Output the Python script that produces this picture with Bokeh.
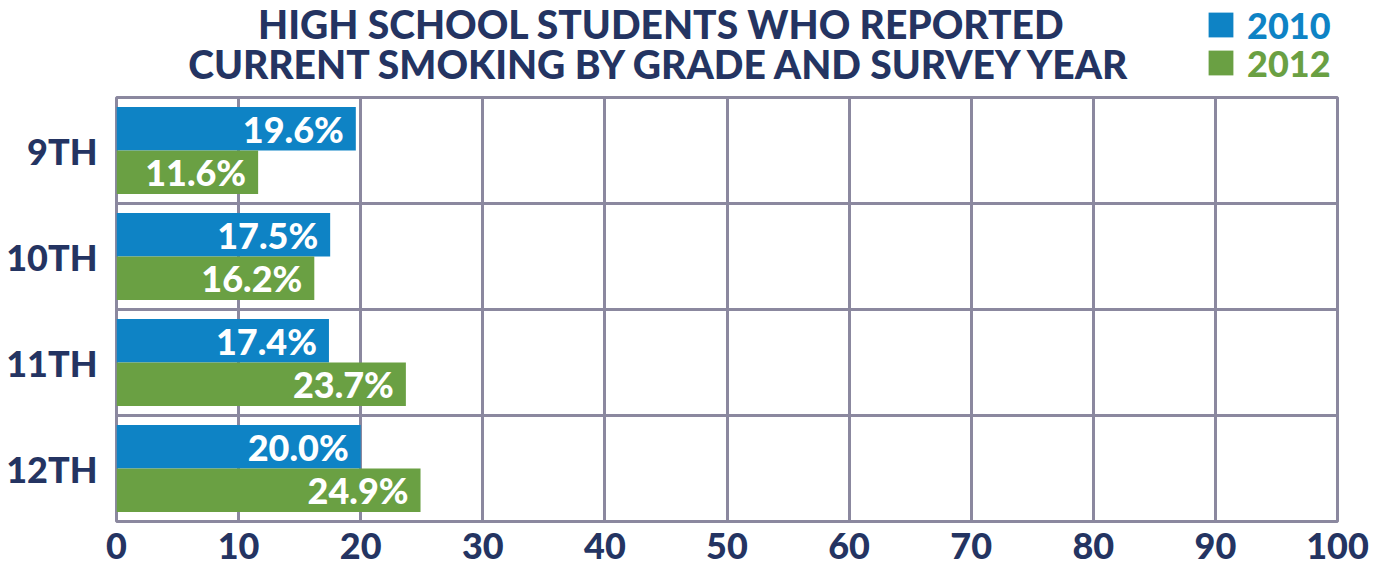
from bokeh.plotting import figure
from bokeh.layouts import column
from bokeh.models import (ColumnDataSource, FixedTicker, Label, Legend, LegendItem, Range1d)
from bokeh.transform import dodge
from bokeh.core.properties import value
from bokeh.embed import file_html
from bokeh.resources import INLINE

# ---- data ----
grades = ["9TH", "10TH", "11TH", "12TH"]
smoking_2010 = [19.6, 17.5, 17.4, 20.0]
smoking_2012 = [11.6, 16.2, 23.7, 24.9]
series_names = ["2010", "2012"]
x_ticks = [0, 10, 20, 30, 40, 50, 60, 70, 80, 90, 100]
title_lines = ["HIGH SCHOOL STUDENTS WHO REPORTED",
               "CURRENT SMOKING BY GRADE AND SURVEY YEAR"]

# ---- style ----
NAVY = "#243462"
BLUE = "#0e83c5"
GREEN = "#6aa043"
GRID = "#8b889f"
FONT = "Lato Black, Lato"
W = 1387
TOP_H = 90
MAIN_H = 471
LEFT, RIGHT = 116, 50

n = len(grades)
pos = [n - i for i in range(n)]  # first grade at top
source = ColumnDataSource(dict(
    grade=grades, pos=pos,
    v2010=smoking_2010, v2012=smoking_2012,
    l2010=[f"{v:.1f}%" for v in smoking_2010],
    l2012=[f"{v:.1f}%" for v in smoking_2012],
))
OFF = 0.205
BH = 0.41

# ---------------- header: title + legend ----------------
head = figure(width=W, height=TOP_H, x_range=Range1d(0, 1), y_range=Range1d(0, 1),
              x_axis_type=None, y_axis_type=None, title=None,
              output_backend="svg", toolbar_location=None,
              min_border_left=LEFT, min_border_right=RIGHT,
              min_border_top=0, min_border_bottom=0)
head.outline_line_color = None
head.background_fill_color = "white"
head.border_fill_color = "white"

for line, ybase in zip(title_lines, (66.5, 26.5)):
    head.add_layout(Label(x=661 - LEFT, y=ybase, x_units="screen", y_units="screen",
                          text=line, text_align="center", text_baseline="alphabetic",
                          text_color=NAVY, text_font=FONT, text_font_style="bold",
                          text_font_size="39px"))

ITEM_H = 40
for name, col, fld, off, centre in ((series_names[0], BLUE, "v2010", OFF, 26.5),
                                    (series_names[1], GREEN, "v2012", -OFF, 64.5)):
    # hidden key renderer (same data) so the legend can draw its swatch
    key = head.hbar(y=dodge("pos", off), left=0, right=fld, height=BH,
                    fill_color=col, line_color=None, source=source, visible=False)
    leg = Legend(items=[LegendItem(label=name, renderers=[key])],
                 location=(1205 - LEFT, TOP_H - centre - ITEM_H / 2),
                 glyph_width=31, glyph_height=31, label_standoff=11,
                 label_text_font=FONT, label_text_font_style="bold",
                 label_text_font_size="36px", label_text_color=col,
                 inactive_fill_alpha=0, click_policy="none",
                 padding=0, margin=0, spacing=0,
                 border_line_color=None, background_fill_alpha=0)
    head.add_layout(leg)

# ---------------- main bar chart ----------------
p = figure(width=W, height=MAIN_H, title=None,
           x_range=Range1d(0, 100), y_range=Range1d(0.5, n + 0.5),
           output_backend="svg", toolbar_location=None,
           min_border_top=7, min_border_left=LEFT, min_border_right=RIGHT,
           min_border_bottom=0)
p.background_fill_color = "white"
p.border_fill_color = "white"

r1 = p.hbar(y=dodge("pos", OFF, range=p.y_range), left=0, right="v2010",
            height=BH, fill_color=BLUE, line_color=None, source=source)
r2 = p.hbar(y=dodge("pos", -OFF, range=p.y_range), left=0, right="v2012",
            height=BH, fill_color=GREEN, line_color=None, source=source)

for col, lab, off in (("v2010", "l2010", OFF), ("v2012", "l2012", -OFF)):
    p.text(x=col, y=dodge("pos", off, range=p.y_range), text=lab, source=source,
           x_offset=-12, text_align="right", text_baseline="middle",
           text_color="white", text_font=value(FONT), text_font_style="bold",
           text_font_size="36px")

# axes
p.xaxis.ticker = FixedTicker(ticks=x_ticks)
p.yaxis.ticker = FixedTicker(ticks=pos)
p.yaxis.major_label_overrides = {k: g for k, g in zip(pos, grades)}
for ax in (p.xaxis, p.yaxis):
    ax.axis_line_color = None
    ax.major_tick_line_color = None
    ax.minor_tick_line_color = None
    ax.major_tick_out = 0
    ax.minor_tick_out = 0
    ax.major_label_text_font = FONT
    ax.major_label_text_font_style = "bold"
    ax.major_label_text_color = NAVY
    ax.major_label_text_font_size = "36px"
p.xaxis.major_label_standoff = 11
p.yaxis.major_label_standoff = 19

# grid
p.xgrid.ticker = FixedTicker(ticks=x_ticks)
p.ygrid.ticker = FixedTicker(ticks=[(a + b) / 2 for a, b in zip(pos[:-1], pos[1:])])
for g in (p.xgrid, p.ygrid):
    g.grid_line_color = GRID
    g.grid_line_width = 3
    g.grid_line_alpha = 1
p.outline_line_color = GRID
p.outline_line_width = 3
p.outline_line_alpha = 1

layout = column(head, p, spacing=0)
open("out.html", "w").write(file_html(layout, INLINE))
